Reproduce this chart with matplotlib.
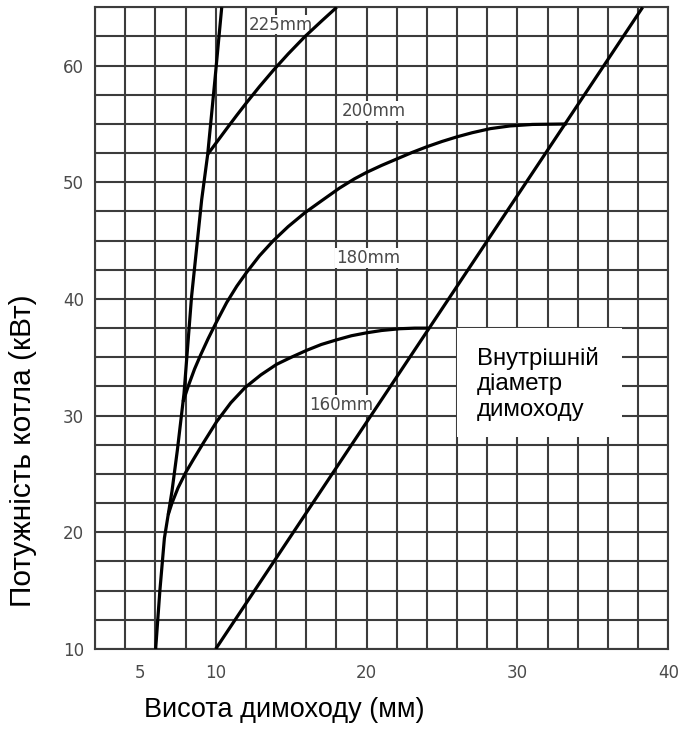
import numpy as np
import matplotlib.pyplot as plt
from matplotlib.patches import Rectangle

# крута межова лінія (ліворуч)
edge_x = [6.02, 6.3, 6.6, 6.85, 7.1, 7.46, 7.9, 8.4, 9.07, 9.47, 9.95, 10.4]
edge_y = [10, 15.0, 19.5, 21.5, 23.5, 27.05, 31.9, 40.2, 48.5, 52.4, 58.8, 65]

# нижня крива (вихід на 37.5 кВт)
low_x = [6.85, 7.1, 7.5, 8.0, 8.5, 9.2, 10.07, 11.0, 11.94, 13.0, 14.04, 15.0,
         16.03, 17.0, 18.02, 19.0, 20.0, 21.0, 22.2, 23.2, 24.1]
low_y = [21.5, 22.5, 23.8, 25.1, 26.2, 27.7, 29.5, 31.1, 32.4, 33.5, 34.4, 35.0,
         35.6, 36.1, 36.5, 36.85, 37.1, 37.3, 37.45, 37.5, 37.5]

# середня крива (вихід на 55 кВт)
mid_x = [7.84, 8.2, 8.6, 9.0, 9.5, 10.0, 10.73, 11.4, 12.06, 12.9, 13.82, 14.8,
         15.92, 17.0, 18.2, 19.2, 20.0, 21.0, 22.0, 23.0, 24.0, 25.0, 26.0, 27.0,
         28.2, 29.5, 31.0, 33.27]
mid_y = [31.2, 32.6, 34.0, 35.2, 36.6, 37.9, 39.7, 41.1, 42.3, 43.7, 45.0, 46.2,
         47.4, 48.4, 49.5, 50.3, 50.85, 51.45, 52.0, 52.55, 53.05, 53.5, 53.9, 54.25,
         54.6, 54.83, 54.96, 55.0]

# верхня крива
top_x = [9.47, 10.1, 10.73, 11.4, 12.06, 12.9, 13.82, 14.8, 15.92, 17.0, 18.02]
top_y = [52.4, 53.5, 54.6, 55.75, 56.85, 58.2, 59.6, 61.0, 62.5, 63.8, 65.0]

# пряма межа праворуч
diag_x = [10, 38.3]
diag_y = [10, 65]

# підписи діаметрів
dia_labels = ['225mm', '200mm', '180mm', '160mm']
dia_x = [14.3, 20.5, 20.1, 18.3]
dia_y = [63.5, 56.1, 43.5, 30.9]

x_ticks = [5, 10, 20, 30, 40]
y_ticks = [10, 20, 30, 40, 50, 60]

W, H = 683, 731
fig = plt.figure(figsize=(W / 100, H / 100), dpi=100)
ax = fig.add_axes([95 / W, 1 - 649 / H, 573.3 / W, 641.7 / H])
ax.set_xlim(2, 40)
ax.set_ylim(10, 65)

grid_c = '#3c3c3c'
ax.vlines(np.arange(2, 40.1, 2), 10, 65, color=grid_c, lw=1.5, zorder=1)
ax.hlines(np.arange(10, 65.1, 2.5), 2, 40, color=grid_c, lw=1.5, zorder=1)
for s in ax.spines.values():
    s.set_color(grid_c)
    s.set_linewidth(1.5)

ax.set_xticks(x_ticks)
ax.set_yticks(y_ticks)
ax.tick_params(length=0, labelsize=12, labelcolor='#4a4a4a')
ax.tick_params(axis='x', pad=11)
ax.tick_params(axis='y', pad=8)

lw = 2.3
for xs, ys in [(edge_x, edge_y), (low_x, low_y), (mid_x, mid_y),
               (top_x, top_y), (diag_x, diag_y)]:
    ax.plot(xs, ys, color='black', lw=lw, zorder=3, solid_capstyle='butt',
            solid_joinstyle='round')

for lab, x, y in zip(dia_labels, dia_x, dia_y):
    ax.text(x, y, lab, fontsize=12, color='#4a4a4a', ha='center', va='center',
            zorder=2, bbox=dict(facecolor='white', edgecolor='none', pad=0.5))

# білий блок з поясненням
ax.add_patch(Rectangle((0.631, 0.331), 0.288, 0.169, transform=ax.transAxes,
                       facecolor='white', edgecolor='none', zorder=2))
ax.text(0.666, 0.413, 'Внутрішній\nдіаметр\nдимоходу', transform=ax.transAxes,
        fontsize=17.3, family='Liberation Sans', ha='left', va='center', zorder=4)

fig.text(284 / W, 1 - 710 / H, 'Висота димоходу (мм)', fontsize=19.5,
         family='Liberation Sans', ha='center', va='center')
fig.text(23 / W, 1 - 451 / H, 'Потужність котла (кВт)', fontsize=21.5,
         family='Liberation Sans', ha='center', va='center', rotation=90)

fig.savefig('out.png', dpi=100)
